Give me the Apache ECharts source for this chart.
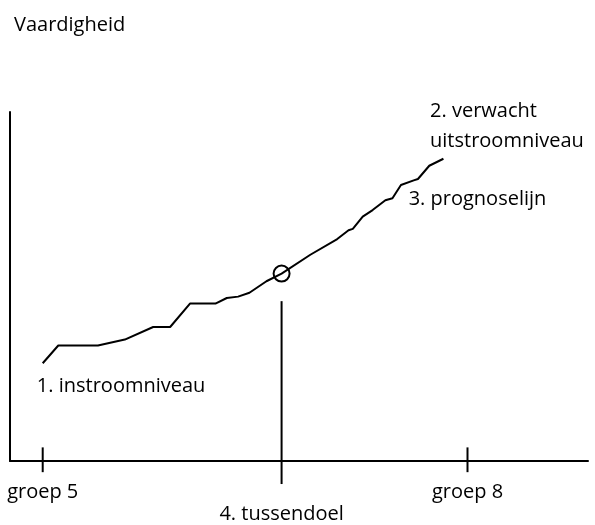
<!DOCTYPE html>
<html>
<head>
<meta charset="utf-8">
<script src="https://cdn.jsdelivr.net/npm/echarts@6/dist/echarts.min.js"></script>
<style>html,body{margin:0;padding:0;background:#fff}#c{width:595px;height:525px}</style>
</head>
<body>
<div id="c"></div>
<script>
// x in school years (groep), y in arbitrary skill units (0-100)
var xMin = 4.769, xMax = 8.851;
var tickValues = [5, 6.687, 8];
var tickLabels = ['groep 5', '\n4. tussendoel', 'groep 8'];
var lineX = [5.00, 5.11, 5.39, 5.58, 5.78, 5.90, 6.04, 6.22, 6.30, 6.38, 6.46, 6.58, 6.687, 6.89, 7.08, 7.16, 7.19, 7.26, 7.33, 7.42, 7.47, 7.53, 7.62, 7.65, 7.73, 7.83];
var lineY = [28.0, 33.1, 33.1, 34.8, 38.4, 38.4, 45.1, 45.1, 46.7, 47.1, 48.2, 51.5, 53.7, 59.1, 63.6, 66.1, 66.5, 70.0, 71.9, 74.7, 75.3, 79.1, 80.4, 80.8, 84.6, 86.6];
var goalPoint = [6.687, 53.7];
var goalLine = [[6.687, 45.8], [6.687, -6.6]];
var tickMarkTop = 3.9, tickMarkBottom = -3.2;
var annotTexts = ['1. instroomniveau', '2. verwacht\nuitstroomniveau', '3. prognoselijn'];
var annotX = [4.962, 7.739, 7.588];
var annotY = [21.4, 95.8, 74.9];

var FONT = '"Open Sans", sans-serif';
var lineData = lineX.map(function (x, i) { return [x, lineY[i]]; });
var annotData = annotTexts.map(function (t, i) { return { value: [annotX[i], annotY[i]], name: t }; });

var series = [
  { type: 'line', data: lineData, symbol: 'none', lineStyle: { color: '#000', width: 2 }, silent: true, z: 3 },
  { type: 'line', data: goalLine, symbol: 'none', clip: false, lineStyle: { color: '#000', width: 2 }, silent: true },
  { type: 'scatter', data: [goalPoint], symbol: 'circle', symbolSize: 16, itemStyle: { color: 'rgba(0,0,0,0)', borderColor: '#000', borderWidth: 2, opacity: 1 }, silent: true, z: 4 },
  { type: 'scatter', data: annotData, symbolSize: 1, clip: false, itemStyle: { color: 'rgba(255,255,255,0)', opacity: 1 }, silent: true,
    label: { show: true, position: [0, 0], align: 'left', verticalAlign: 'middle', formatter: function (p) { return p.name; },
      color: '#000', opacity: 1, textBorderWidth: 0, textShadowBlur: 0, fontFamily: FONT, fontSize: 20, lineHeight: 30 } }
];
[tickValues[0], tickValues[2]].forEach(function (v) {
  series.push({ type: 'line', data: [[v, tickMarkTop], [v, tickMarkBottom]], symbol: 'none', clip: false, lineStyle: { color: '#000', width: 2 }, silent: true });
});

var chart = echarts.init(document.getElementById('c'));
chart.setOption({
  animation: false,
  title: { text: 'Vaardigheid', left: 9, top: 10, textStyle: { fontFamily: FONT, fontSize: 20, fontWeight: 'normal', color: '#000' } },
  grid: { left: 10, right: 7, top: 112, bottom: 63 },
  xAxis: {
    type: 'value', min: xMin, max: xMax,
    axisLine: { show: true, lineStyle: { color: '#000', width: 2 } },
    axisTick: { show: false }, splitLine: { show: false },
    axisLabel: {
      customValues: tickValues, margin: 20, color: '#000', fontFamily: FONT, fontSize: 20, lineHeight: 22,
      formatter: function (v) {
        for (var i = 0; i < tickValues.length; i++) { if (Math.abs(v - tickValues[i]) < 1e-6) return tickLabels[i]; }
        return '';
      }
    }
  },
  yAxis: {
    type: 'value', min: 0, max: 100,
    axisLine: { show: true, lineStyle: { color: '#000', width: 2 } },
    axisTick: { show: false }, axisLabel: { show: false }, splitLine: { show: false }
  },
  series: series
});
</script>
</body>
</html>
